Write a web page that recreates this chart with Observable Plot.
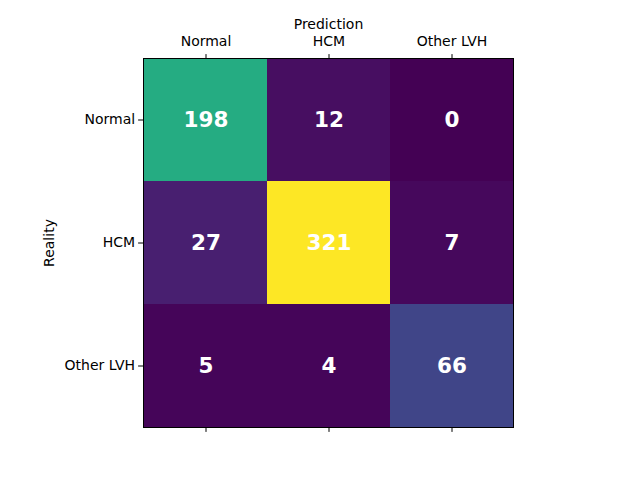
<!DOCTYPE html>
<html><head><meta charset="utf-8">
<script src="https://cdn.jsdelivr.net/npm/d3@7"></script>
<script src="https://cdn.jsdelivr.net/npm/@observablehq/plot@0.6"></script>
<style>body{margin:0;background:#fff;} svg{font-family:"DejaVu Sans";}</style>
</head><body><div id="chart"></div>
<script>
const classes = ["Normal", "HCM", "Other LVH"];
const reality = ["Normal","Normal","Normal","HCM","HCM","HCM","Other LVH","Other LVH","Other LVH"];
const prediction = ["Normal","HCM","Other LVH","Normal","HCM","Other LVH","Normal","HCM","Other LVH"];
const counts = [198, 12, 0, 27, 321, 7, 5, 4, 66];
const data = counts.map((v, i) => ({real: reality[i], pred: prediction[i], v}));
const chart = Plot.plot({
  width: 640, height: 480,
  marginLeft: 143, marginRight: 127, marginTop: 58, marginBottom: 53,
  style: {fontFamily: "DejaVu Sans", fontSize: "14px", color: "#000", background: "#fff"},
  x: {domain: classes, padding: 0},
  y: {domain: classes, padding: 0},
  color: {type: "linear", scheme: "viridis", domain: [0, 321]},
  marks: [
    Plot.cell(data, {x: "pred", y: "real", fill: "v"}),
    Plot.text(data, {x: "pred", y: "real", text: d => String(d.v), fill: "white", fontWeight: "bold", fontSize: 21.5}),
    Plot.axisX({anchor: "top", tickSize: 4.9, tickPadding: 7.5, label: "Prediction", labelAnchor: "center", labelArrow: "none", labelOffset: 39, fontSize: 14}),
    Plot.axisX({anchor: "bottom", tickSize: 4.9, tickFormat: () => "", label: null}),
    Plot.axisY({anchor: "left", tickSize: 4.9, tickPadding: 3.5, label: "Reality", labelAnchor: "center", labelArrow: "none", labelOffset: 99, fontSize: 14}),
    Plot.frame({stroke: "black", strokeWidth: 1})
  ]
});
document.getElementById("chart").appendChild(chart);
</script></body></html>
